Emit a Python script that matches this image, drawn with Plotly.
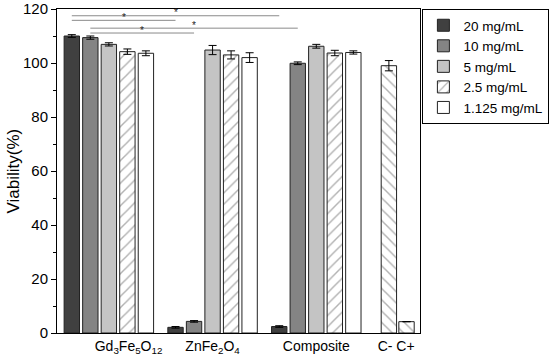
import plotly.graph_objects as go

# ---------------- data ----------------
groups = ["Gd<sub>3</sub>Fe<sub>5</sub>O<sub>12</sub>", "ZnFe<sub>2</sub>O<sub>4</sub>", "Composite"]
group_pos = [1, 2, 3]
series_names = ["20 mg/mL", "10 mg/mL", "5 mg/mL", "2.5 mg/mL", "1.125 mg/mL"]
v20 = [110.0, 2.1, 2.4]
v10 = [109.4, 4.3, 99.9]
v5 = [106.9, 104.8, 106.2]
v25 = [104.2, 103.0, 103.7]
v1125 = [103.6, 102.0, 103.9]
e20 = [0.5, 0.3, 0.3]
e10 = [0.6, 0.3, 0.5]
e5 = [0.6, 1.7, 0.7]
e25 = [1.0, 1.5, 1.0]
e1125 = [0.9, 1.8, 0.6]
controls = ["C-", "C+"]
controls_x = [3.70, 3.87]
controls_vals = [99.0, 4.2]
controls_err = [1.9, 0.0]

values = [v20, v10, v5, v25, v1125]
errors = [e20, e10, e5, e25, e1125]
fills = ["#404040", "#848484", "#c4c4c4", "white", "white"]
patterns = ["", "", "", "/", ""]

# significance pairs: (group idx a, group idx b, series idx, y level)
sig_pairs = [(0, 2, 0, 117.5), (0, 1, 0, 115.8), (0, 2, 1, 112.9), (0, 1, 1, 111.1)]

bargap = 0.107
bargroupgap = 0.17
slot = (1 - bargap) / 5
barw = slot * (1 - bargroupgap)

fig = go.Figure()
for name, vals, errs, fc, pat in zip(series_names, values, errors, fills, patterns):
    fig.add_trace(go.Bar(
        x=group_pos, y=vals, name=name,
        marker=dict(color=fc, line=dict(color="#222222", width=1),
                    pattern=dict(shape=pat, fgcolor="#666666", bgcolor="white", size=8, solidity=0.18)),
        error_y=dict(type="data", array=errs, color="black", thickness=1, width=4),
    ))

fig.add_trace(go.Bar(
    x=controls_x, y=controls_vals, width=barw, offset=-barw / 2, showlegend=False,
    marker=dict(color="white", line=dict(color="#222222", width=1),
                pattern=dict(shape="\\", fgcolor="#666666", bgcolor="white", size=8, solidity=0.18)),
    error_y=dict(type="data", array=controls_err, color="black", thickness=1, width=4),
))

shapes = []
annotations = []
for ga, gb, si, yl in sig_pairs:
    xa = group_pos[ga] + (si - 2) * slot
    xb = group_pos[gb] + (si - 2) * slot
    shapes.append(dict(type="line", xref="x", yref="y", x0=xa, x1=xb, y0=yl, y1=yl,
                       line=dict(color="#8a8a8a", width=1)))
    annotations.append(dict(x=(xa + xb) / 2, y=yl, xref="x", yref="y", text="*",
                            showarrow=False, yshift=3, font=dict(size=10, color="#222222")))

annotations.append(dict(text="Viability(%)", xref="paper", yref="paper", x=-0.12, y=0.5,
                        xanchor="center", yanchor="middle", textangle=-90, showarrow=False,
                        font=dict(size=17)))

font = "Liberation Sans, Arial, sans-serif"
fig.update_layout(
    width=550, height=359,
    margin=dict(l=57, r=130, t=9, b=26, autoexpand=False),
    paper_bgcolor="white", plot_bgcolor="white",
    barmode="group", bargap=bargap, bargroupgap=bargroupgap,
    font=dict(family=font, size=14, color="black"),
    shapes=shapes, annotations=annotations,
    showlegend=True,
    legend=dict(xref="container", yref="container", x=0.768, y=0.975,
                xanchor="left", yanchor="top",
                bordercolor="black", borderwidth=1, bgcolor="white",
                font=dict(size=13.5), tracegroupgap=0, itemwidth=30),
    xaxis=dict(range=[0.5, 4.0], tickvals=[1.19, 2, 3, 3.77],
               ticktext=groups + ["C- C+"], showgrid=False, zeroline=False,
               showline=True, linecolor="black", linewidth=1, mirror=True,
               ticks="", tickfont=dict(size=14), automargin=False),
    yaxis=dict(range=[0, 120], dtick=20, showgrid=False, zeroline=False,
               showline=True, linecolor="black", linewidth=1, mirror=True,
               ticks="outside", ticklen=5, tickcolor="black",
               minor=dict(ticks="outside", ticklen=3, dtick=10, tickcolor="black"),
               tickfont=dict(size=15), automargin=False),
)

fig.write_html("out.html", config={"displayModeBar": False},
               post_script="document.body.style.margin='0';document.body.style.overflow='hidden';")
